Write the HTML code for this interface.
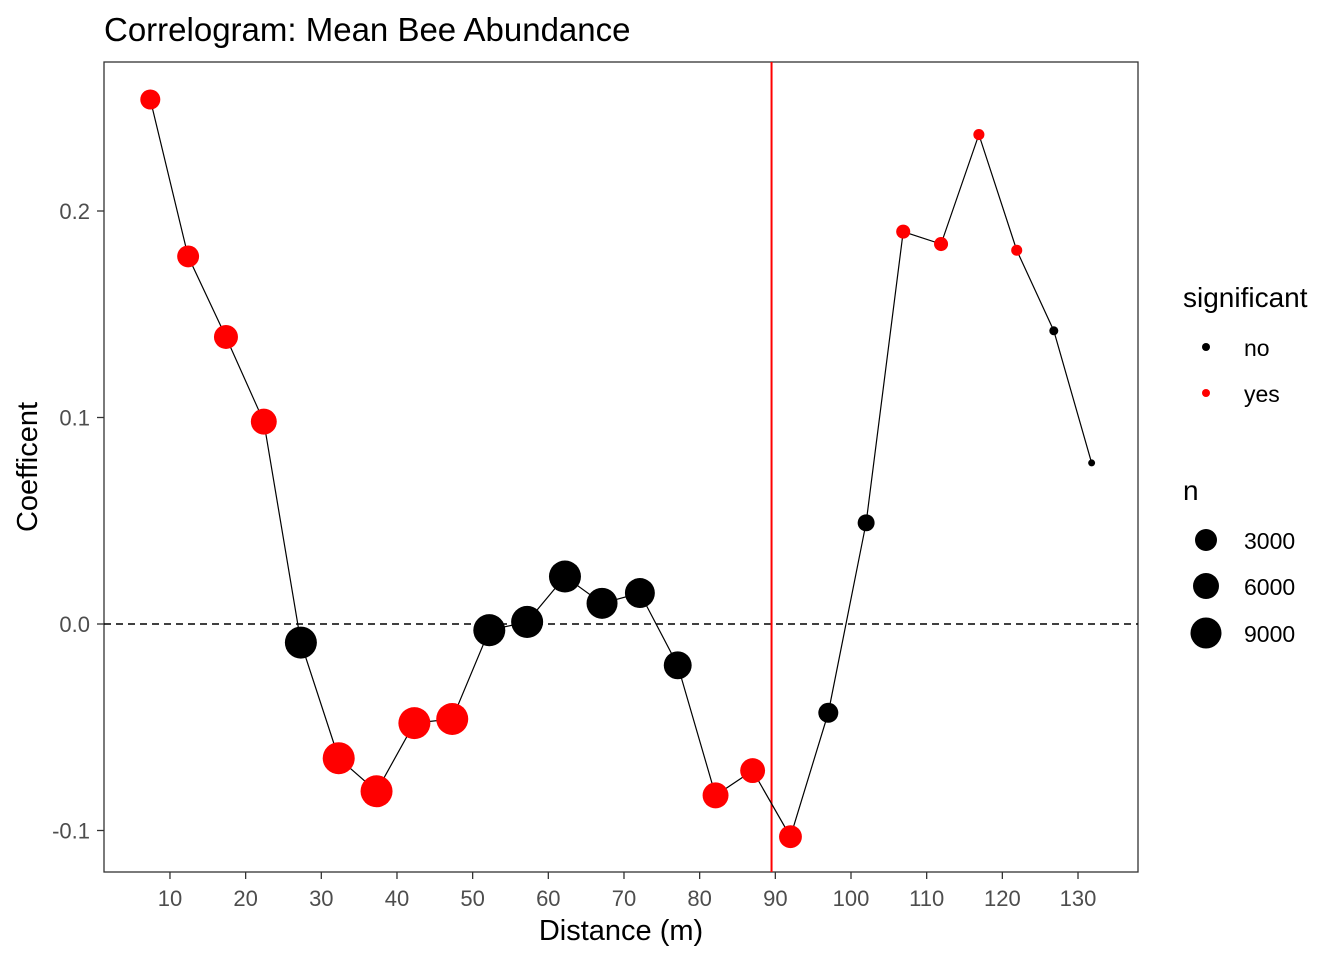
<!DOCTYPE html>
<html><head><meta charset="utf-8"><style>
body{margin:0;background:#fff}
text{font-family:"Liberation Sans",Arial,sans-serif}
</style></head><body>
<svg id="chart" width="1344" height="960" xmlns="http://www.w3.org/2000/svg">
<text x="104" y="41" font-size="33" fill="#000">Correlogram: Mean Bee Abundance</text>
<rect x="104" y="62" width="1034" height="810" fill="none" stroke="#333" stroke-width="1.3"/>
<g id="ticks"></g>
<g id="marks"></g>
<text x="621" y="940" font-size="29" text-anchor="middle">Distance (m)</text>
<text transform="translate(37,467) rotate(-90)" font-size="29" text-anchor="middle">Coefficent</text>
<g>
<text x="1183" y="307" font-size="28">significant</text>
<circle cx="1206" cy="347" r="4" fill="#000"/>
<text x="1244" y="356" font-size="23">no</text>
<circle cx="1206" cy="393" r="4" fill="#f00"/>
<text x="1244" y="402" font-size="23">yes</text>
<text x="1183" y="500" font-size="28">n</text>
<circle cx="1206" cy="540" r="11" fill="#000"/>
<text x="1244" y="549" font-size="23">3000</text>
<circle cx="1206" cy="586" r="13" fill="#000"/>
<text x="1244" y="595" font-size="23">6000</text>
<circle cx="1206" cy="633" r="15.5" fill="#000"/>
<text x="1244" y="642" font-size="23">9000</text>
</g>
</svg>
<script>
const distances=[7.4,12.4,17.4,22.4,27.3,32.3,37.3,42.3,47.3,52.2,57.2,62.2,67.1,72.1,77.1,82.1,87.0,92.0,97.0,102.0,106.9,111.9,116.9,121.9,126.8,131.8];
const coefficients=[0.254,0.178,0.139,0.098,-0.009,-0.065,-0.081,-0.048,-0.046,-0.003,0.001,0.023,0.010,0.015,-0.020,-0.083,-0.071,-0.103,-0.043,0.049,0.190,0.184,0.237,0.181,0.142,0.078];
const counts=[3750,4500,5400,6300,9600,9600,9600,9600,9600,9600,9600,9600,9000,8400,7300,6300,5800,4900,3750,2700,1850,1850,1150,1150,760,460];
const significant=[1,1,1,1,0,1,1,1,1,0,0,0,0,0,0,1,1,1,0,0,1,1,1,1,0,0];
const xTicks=[10,20,30,40,50,60,70,80,90,100,110,120,130];
const yTicks=[-0.1,0.0,0.1,0.2];
const yTickLabels=["-0.1","0.0","0.1","0.2"];
const vlineX=89.5;
const NS="http://www.w3.org/2000/svg";
const sx=v=>94.3+v*7.567;
const sy=v=>624-v*2065;
const sr=n=>15.5*Math.sqrt(n/9000);
function mk(tag,attrs,parent,txt){const e=document.createElementNS(NS,tag);for(const k in attrs)e.setAttribute(k,attrs[k]);if(txt!==undefined)e.textContent=txt;parent.appendChild(e);return e;}
const tg=document.getElementById('ticks'),mg=document.getElementById('marks');
xTicks.forEach(t=>{
 const l=mk('line',{x1:sx(t),x2:sx(t),y1:872,y2:879,stroke:'#333','stroke-width':1.3},tg);
 
 
 const tx=mk('text',{x:sx(t),y:906,'font-size':22,fill:'#4d4d4d','text-anchor':'middle'},tg,String(t));
 
 
});
yTicks.forEach((t,i)=>{
 const l=mk('line',{x1:97,x2:104,y1:sy(t),y2:sy(t),stroke:'#333','stroke-width':1.3},tg);
 
 
 const tx=mk('text',{x:90,y:sy(t)+8,'font-size':22,fill:'#4d4d4d','text-anchor':'end'},tg,yTickLabels[i]);
 
 
});
const zl=mk('line',{x1:104,x2:1138,y1:sy(0),y2:sy(0),stroke:'#000','stroke-width':1.6,'stroke-dasharray':'7,5'},mg);


const vl=mk('line',{x1:sx(vlineX),x2:sx(vlineX),y1:62,y2:872,stroke:'#f00','stroke-width':2},mg);


const pl=mk('polyline',{points:distances.map((d,i)=>sx(d)+','+sy(coefficients[i])).join(' '),fill:'none',stroke:'#000','stroke-width':1.2},mg);


distances.forEach((d,i)=>{
 const c=mk('circle',{cx:sx(d),cy:sy(coefficients[i]),r:sr(counts[i]),fill:significant[i]?'#f00':'#000'},mg);
 
 
});
</script>
</body></html>
